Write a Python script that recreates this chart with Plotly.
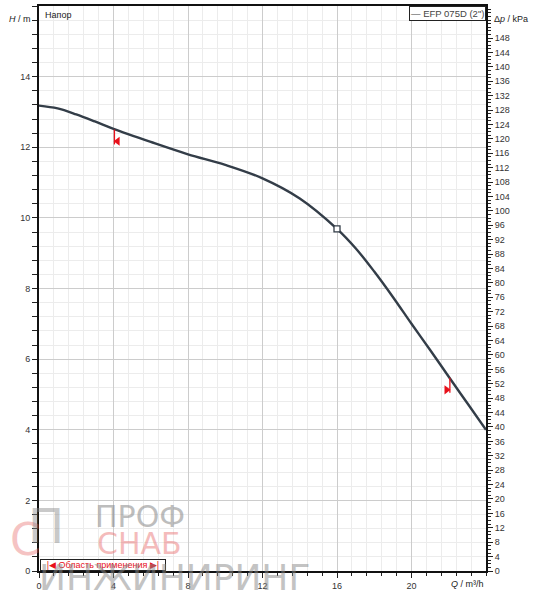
import plotly.graph_objects as go

# Data
q_vals = [0, 1, 2, 3, 4, 6, 8, 10, 12, 14, 16, 17, 18, 19, 20, 21, 22, 23, 24]
h_vals = [13.18, 13.1, 12.93, 12.73, 12.52, 12.15, 11.8, 11.5, 11.12, 10.55, 9.69, 9.14, 8.48, 7.76, 7.0, 6.26, 5.5, 4.75, 4.0]
duty_q = [16]
duty_h = [9.69]
range_q = [4.05, 22.06]
range_h_top = [12.5, 5.47]
range_h_bot = [12.08, 5.05]
tri_q = [4.22, 21.88]
tri_h = [12.17, 5.13]
x_ticks = [0, 4, 8, 12, 16, 20]
y_ticks = [0, 2, 4, 6, 8, 10, 12, 14]
kpa_ticks = list(range(0, 149, 4))
series_name = 'EFP 075D (2")'
G = 9.80665

FONT = "Liberation Sans, Arial, sans-serif"
DARK = "#333d48"
RED = "#e8101a"

fig = go.Figure()

# invisible trace on kPa axis so the axis is drawn
fig.add_trace(go.Scatter(x=q_vals, y=[h * G for h in h_vals], yaxis="y2",
                         mode="lines", line=dict(width=0, color="rgba(0,0,0,0)"),
                         hoverinfo="skip", showlegend=False))

fig.add_trace(go.Scatter(x=q_vals, y=h_vals, mode="lines",
                         line=dict(color=DARK, width=2.4, shape="spline", smoothing=1.0),
                         name=series_name, showlegend=False))

# operating range markers
for i in range(2):
    fig.add_trace(go.Scatter(x=[range_q[i], range_q[i]], y=[range_h_top[i], range_h_bot[i]],
                             mode="lines", line=dict(color=RED, width=1.3),
                             hoverinfo="skip", showlegend=False))
fig.add_trace(go.Scatter(x=[tri_q[0]], y=[tri_h[0]], mode="markers",
                         marker=dict(symbol="triangle-left", size=8, color=RED),
                         hoverinfo="skip", showlegend=False))
fig.add_trace(go.Scatter(x=[tri_q[1]], y=[tri_h[1]], mode="markers",
                         marker=dict(symbol="triangle-right", size=8, color=RED),
                         hoverinfo="skip", showlegend=False))

# duty point
fig.add_trace(go.Scatter(x=duty_q, y=duty_h, mode="markers",
                         marker=dict(symbol="square", size=6, color="white",
                                     line=dict(color=DARK, width=1.3)),
                         showlegend=False))

tickfont = dict(family=FONT, size=9, color="#333")

fig.update_layout(
    width=538, height=600,
    margin=dict(l=39, r=52, t=4, b=29),
    paper_bgcolor="white", plot_bgcolor="white",
    font=dict(family=FONT, size=9, color="#333"),
    xaxis=dict(range=[0, 24], tickmode="array", tickvals=x_ticks,
               showgrid=True, gridcolor="#cccccc", gridwidth=1,
               ticks="outside", ticklen=5, tickcolor="#222", tickwidth=1,
               showline=True, linecolor="#111", linewidth=2, mirror=True,
               zeroline=False, tickfont=tickfont,
               minor=dict(dtick=0.8, tick0=0, ticks="outside", ticklen=3,
                          tickcolor="#222", showgrid=True, gridcolor="#ececec", gridwidth=1)),
    yaxis=dict(range=[0, 16], tickmode="array", tickvals=y_ticks,
               showgrid=True, gridcolor="#cccccc", gridwidth=1,
               ticks="outside", ticklen=5, tickcolor="#222", tickwidth=1,
               showline=True, linecolor="#111", linewidth=2,
               zeroline=False, tickfont=tickfont,
               minor=dict(dtick=0.4, tick0=0, ticks="outside", ticklen=5,
                          tickcolor="#222", showgrid=True, gridcolor="#ececec", gridwidth=1)),
    yaxis2=dict(range=[0, 16 * G], overlaying="y", side="right",
                tickmode="array", tickvals=kpa_ticks,
                showgrid=False, ticks="outside", ticklen=5, tickcolor="#222",
                showline=True, linecolor="#111", linewidth=2,
                zeroline=False, tickfont=tickfont,
                minor=dict(dtick=1, tick0=0, ticks="outside", ticklen=3, tickcolor="#222",
                           showgrid=False)),
)

ann = []
ann.append(dict(text="Напор", xref="paper", yref="paper", x=0.008, y=0.997,
                xanchor="left", yanchor="top", showarrow=False,
                font=dict(family=FONT, size=9, color="#222")))
ann.append(dict(text="<i>H</i> / m", xref="paper", yref="paper", x=0, y=0.99,
                xanchor="right", yanchor="top", xshift=-6, showarrow=False,
                font=dict(family=FONT, size=9, color="#222")))
ann.append(dict(text="Δ<i>p</i> / kPa", xref="paper", yref="paper", x=1, y=0.99,
                xanchor="left", yanchor="top", xshift=6, showarrow=False,
                font=dict(family=FONT, size=9, color="#222")))
ann.append(dict(text="<i>Q</i> / m³/h", xref="paper", yref="paper", x=1, y=0,
                xanchor="right", yanchor="top", yshift=-6, showarrow=False,
                font=dict(family=FONT, size=9, color="#222")))
ann.append(dict(text="— " + series_name, xref="paper", yref="paper", x=1, y=1,
                xanchor="right", yanchor="top", showarrow=False,
                bordercolor="#222", borderwidth=1, borderpad=1, bgcolor="white",
                font=dict(family=FONT, size=9.5, color="#444")))
ann.append(dict(text="|◀ Область применения ▶|", xref="paper", yref="paper", x=0, y=0,
                xanchor="left", yanchor="bottom", xshift=1, showarrow=False,
                bordercolor="#222", borderwidth=1, borderpad=0, bgcolor="rgba(255,255,255,0.7)",
                width=124, font=dict(family=FONT, size=9, color=RED)))

# watermark
ann.append(dict(text="ПРОФ", xref="paper", yref="paper", x=0.225, y=0.096,
                xanchor="center", yanchor="middle", showarrow=False, opacity=0.55,
                font=dict(family="DejaVu Sans", size=30, color="#888")))
ann.append(dict(text="СНАБ", xref="paper", yref="paper", x=0.225, y=0.048,
                xanchor="center", yanchor="middle", showarrow=False, opacity=0.45,
                font=dict(family="DejaVu Sans", size=30, color="#e86a6a")))
ann.append(dict(text="ИНЖИНИРИНГ", xref="paper", yref="paper", x=0.304, y=-0.012,
                xanchor="center", yanchor="middle", showarrow=False, opacity=0.5,
                font=dict(family="DejaVu Sans", size=36, color="#888")))
ann.append(dict(text="С", xref="paper", yref="paper", x=-0.03, y=0.055,
                xanchor="center", yanchor="middle", showarrow=False, opacity=0.4,
                font=dict(family="DejaVu Sans", size=44, color="#e86a6a")))
ann.append(dict(text="П", xref="paper", yref="paper", x=0.015, y=0.08,
                xanchor="center", yanchor="middle", showarrow=False, opacity=0.45,
                font=dict(family="DejaVu Sans", size=48, color="#888")))
fig.update_layout(annotations=ann)

fig.write_html("out.html", config={"displayModeBar": False},
               post_script="document.body.style.margin='0';")
